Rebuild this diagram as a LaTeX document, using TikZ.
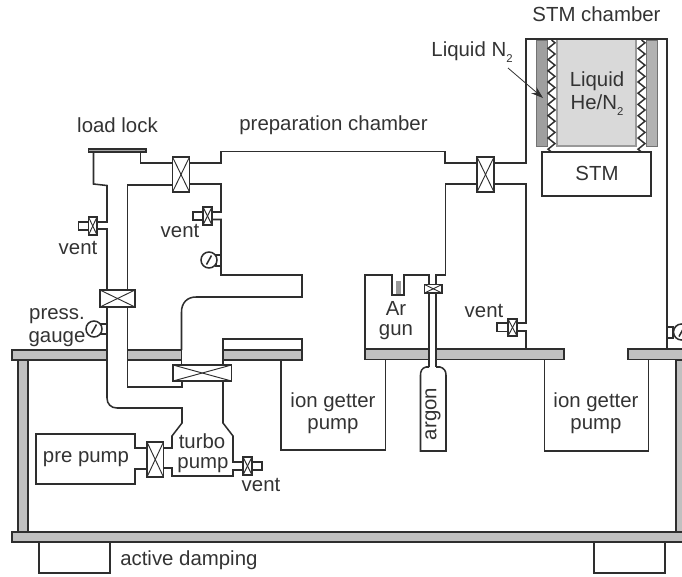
\documentclass[tikz,border=0pt]{standalone}
\usepackage{fontspec}
\setmainfont{Liberation Sans}
\usetikzlibrary{arrows.meta,decorations.pathmorphing}
\definecolor{ink}{HTML}{2E2E2E}
\definecolor{txt}{HTML}{333333}
\definecolor{tablegray}{HTML}{C0C0C0}
\newcommand{\lbl}[3]{\node[label text] (#3) at (#1) {#2};}
\newcommand{\subtwo}{\raisebox{-0.28em}{\fontsize{8.5}{9}\selectfont 2}}
\newcommand{\valvebox}[2]{\draw[valve line,fill=white] (#1) rectangle (#2);
  \draw[valve x] (#1) -- (#2);
  \path (#1) coordinate (va) (#2) coordinate (vb);
  \draw[valve x] (va |- vb) -- (vb |- va);}
\newcommand{\smallvalve}[2]{\draw[small valve,fill=white] (#1) rectangle (#2);
  \draw[valve x] (#1) -- (#2);
  \path (#1) coordinate (va) (#2) coordinate (vb);
  \draw[valve x] (va |- vb) -- (vb |- va);}
\newcommand{\gauge}[3]{% centre, stub corner 1, stub corner 2
  \draw[wall] (#2) rectangle (#3);
  \draw[wall,fill=white] (#1) circle (8);
  \draw[wall] (#1) ++(-2.5,4.5) -- ++(5,-9);}
\tikzset{
  wall/.style={draw=ink,line width=1.15pt,line join=miter},
  valve line/.style={draw=ink,line width=1.3pt},
  small valve/.style={draw=ink,line width=1.3pt},
  valve x/.style={draw=ink,line width=0.7pt},
  slab/.style={draw=ink,line width=1.15pt,fill=tablegray},
  label text/.style={text=txt,inner sep=0pt,font=\fontsize{15.3}{18}\selectfont,align=center},
  spring/.style={draw=ink,line width=1.1pt,decorate,decoration={zigzag,segment length=8.4pt,amplitude=2.6pt}}
}
\begin{document}
\begin{tikzpicture}[x=0.75pt,y=-0.75pt]
\useasboundingbox (0,0) rectangle (682,576);
\clip (0,0) rectangle (682,576);
% tables and posts
\draw[slab] (18,360) rectangle (28,532);
\draw[slab] (676,360) rectangle (690,532);
\draw[slab] (12,532) rectangle (690,542);
\draw[slab] (12,350) rectangle (107,360);
\draw[slab] (127.5,350) rectangle (181.5,360);
\draw[slab] (223,350) rectangle (302,360);
\draw[slab] (365,349) rectangle (429,359.5);
\draw[slab] (436,349) rectangle (564,359.5);
\draw[slab] (628,349) rectangle (690,359.5);
% dampers
\draw[wall] (39,542) -- (39,573) -- (110,573) -- (110,542);
\draw[wall] (594,542) -- (594,573) -- (665,573) -- (665,542);
% ion getter pumps
\draw[wall] (281,360) -- (281,450) -- (385.5,450) -- (385.5,359.5);
\draw[wall] (544.5,359.5) -- (544.5,451) -- (648.5,451) -- (648.5,359.5);
% load lock
\draw[wall,fill=gray!70] (88.5,149) rectangle (146,152);
\draw[wall] (93.5,152) -- (93.5,184) -- (107,185.5) -- (107,222) -- (88,222);
\draw[wall] (88,229) -- (107,229) -- (107,350);
\draw[wall] (107,360) -- (107,398) .. controls (107,404) and (111,408) .. (117,408) -- (182,408) -- (182,423) -- (172,436) -- (172,448) -- (163,448);
\draw[wall] (127.5,350) -- (127.5,185) -- (173,185);
\draw[wall] (127.5,360) -- (127.5,387) -- (182,387) -- (182,381);
\draw[wall] (140.5,152) -- (140.5,163) -- (173,163);
% preparation chamber
\draw[wall] (189,163) -- (221,163) -- (221,151.5) -- (445,151.5) -- (445,163) -- (477,163);
\draw[wall] (189,184) -- (221,184) -- (221,212) -- (212,212);
\draw[wall] (212,219.5) -- (221,219.5) -- (221,275) -- (302,275) -- (302,297) -- (196,297) .. controls (187,297) and (181.5,303) .. (181.5,312) -- (181.5,350);
\draw[wall] (181.5,360) -- (181.5,366);
\draw[wall] (223,366) -- (223,339) -- (302,339) -- (302,350);
\draw[wall] (494,163) -- (526,163) -- (526,39) -- (667,39) -- (667,349);
\draw[wall] (477,184) -- (445.5,184) -- (445.5,275) -- (436,275) -- (436,349);
\draw[wall] (494,184) -- (526,184) -- (526,323) -- (517,323);
\draw[wall] (517,331) -- (526,331) -- (526,349);
% Ar gun
\draw[wall] (365,349) -- (365,275) -- (392,275) -- (392,295) -- (404,295) -- (404,275) -- (429,275) -- (429,349);
\fill[gray!80] (396,281) rectangle (400.5,294);
% argon bottle
\draw[wall] (429,359.5) -- (429,367);
\draw[wall] (436,359.5) -- (436,367);
\draw[wall] (429,367) -- (426,367) .. controls (422,368) and (420.5,371) .. (420.5,375) -- (420.5,451) -- (446,451) -- (446,375) .. controls (446,371) and (444,368) .. (440,367) -- (436,367);
% turbo pump
\draw[wall] (223,381) -- (223,423) -- (233,436) -- (233,462) -- (243,462);
\draw[wall] (163,468) -- (172,468) -- (172,476) -- (233,476) -- (233,470) -- (243,470);
\draw[wall] (147,448) -- (135,448) -- (135,434) -- (36,434) -- (36,484) -- (135,484) -- (135,469) -- (147,469);
% valves
\valvebox{172.5,157}{189.5,192}
\valvebox{477,157}{494,192}
\valvebox{100,290}{135,307}
\valvebox{173,365}{231.5,381}
\valvebox{147,442}{163.5,477}
% vents
\draw[wall,fill=white] (78.5,222) rectangle (88.5,230);
\smallvalve{88.5,217}{97,235}
\draw[wall,fill=white] (193,212) rectangle (203,220);
\smallvalve{203,207}{212,225}
\draw[wall,fill=white] (252,462) rectangle (262,470);
\smallvalve{243,457}{252,475}
\draw[wall,fill=white] (497,323) rectangle (508,331.5);
\smallvalve{508,319}{517,336}
\smallvalve{424.5,284.5}{442,293}
% gauges
\gauge{94,329}{101,324}{107,334}
\gauge{209,260}{216,255}{221,266}
\gauge{681.5,332}{667,327}{673,338}
% STM chamber
\fill[gray!75] (536,40) rectangle (547,146);
\draw[gray!90!black,line width=.6pt] (536,40) rectangle (547,146);
\fill[gray!60] (646,40) rectangle (657.5,146);
\draw[gray!90!black,line width=.6pt] (646,40) rectangle (657.5,146);
\fill[gray!30] (557,40) rectangle (636,146);
\draw[gray!80,line width=.8pt] (557,40) -- (557,146) -- (636,146) -- (636,40);
\draw[wall] (526,39) -- (667,39);
\draw[spring] (551.5,40) -- (551.5,152);
\draw[spring] (641.5,40) -- (641.5,152);
\draw[wall,fill=white] (542,152) rectangle (651,196);
% labels
\lbl{117.5,125}{load lock}{tLoad}
\lbl{333.5,125}{preparation chamber}{tPrep}
\lbl{596.5,14}{STM chamber}{tStm}
\lbl{472,52}{Liquid N\subtwo}{tLN}
\lbl{597,81}{Liquid}{tL1}
\lbl{597,105}{He/N\subtwo}{tL2}
\lbl{597,173}{STM}{tS}
\lbl{78,248}{vent}{tV1}
\lbl{180,231}{vent}{tV2}
\lbl{484,311}{vent}{tV3}
\lbl{261,485}{vent}{tV4}
\lbl{57,316}{press.}{tPr}
\lbl{57,339}{gauge}{tGa}
\lbl{396,308}{Ar}{tAr}
\lbl{396,332}{gun}{tGu}
\lbl{333,402}{ion getter}{tI1}
\lbl{333,426}{pump}{tI2}
\lbl{596,402}{ion getter}{tI3}
\lbl{596,426}{pump}{tI4}
\lbl{86,459}{pre pump}{tPre}
\lbl{202,441}{turbo}{tTu}
\lbl{203,465}{pump}{tPu}
\node[label text,rotate=90] (tArgon) at (433,414) {argon};
\node[label text,anchor=west] (tDamp) at (120,560) {active damping};
% arrow
\coordinate (arrowEnd) at (543,98);
\coordinate (arrowStart) at (508,68);
\draw[ink,line width=.6pt,-{Stealth[length=9pt,width=6pt]}] (arrowStart) -- (arrowEnd);
\end{tikzpicture}
\end{document}
